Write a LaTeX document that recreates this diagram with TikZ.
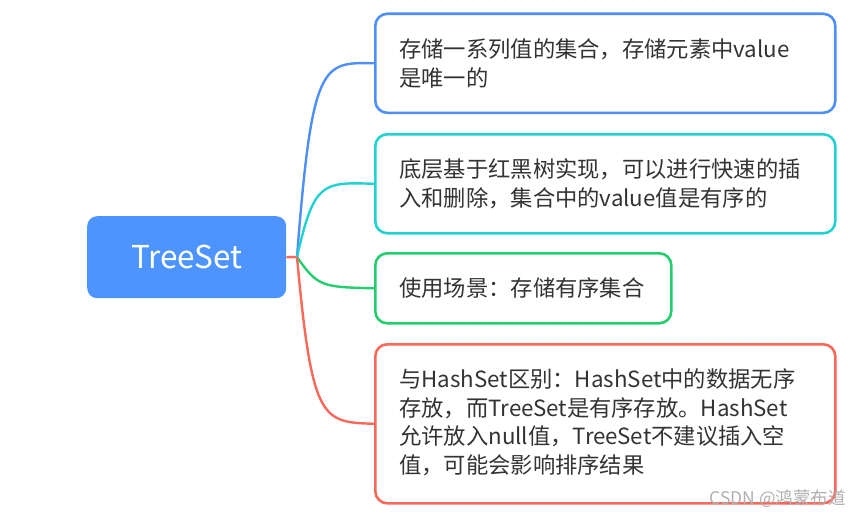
\documentclass[tikz,border=0pt]{standalone}
\usepackage{fontspec}
\setmainfont{Noto Sans CJK SC}
\definecolor{cblue}{HTML}{4E8FF7}
\definecolor{croot}{HTML}{4D94FF}
\definecolor{ccyan}{HTML}{21D2D1}
\definecolor{cgreen}{HTML}{24CE6E}
\definecolor{cred}{HTML}{F9685A}
\definecolor{ctext}{HTML}{333333}
\definecolor{cmark}{HTML}{B0B0B0}
\begin{document}
\begin{tikzpicture}[x=1pt,y=-1pt,
  box/.style={draw=#1,line width=2.6pt,rounded corners=12pt,fill=white,anchor=north west,inner sep=0pt},
  txt/.style={anchor=west,align=left,text=ctext,inner sep=0pt,font=\fontsize{22.3}{28.5}\selectfont},
  link/.style={draw=#1,line width=2.4pt}]
\useasboundingbox (0,0) rectangle (859,519);
% root
\node[fill=croot,rounded corners=10pt,minimum width=199pt,minimum height=82pt,anchor=north west,inner sep=0pt,text=white,font=\fontsize{31.5}{36}\selectfont] (root) at (87,216) {TreeSet};
\coordinate (hub) at (297,257);
% boxes
\node[box=cblue,minimum width=460pt,minimum height=99pt] (b1) at (374,12.5) {};
\node[box=ccyan,minimum width=460pt,minimum height=99pt] (b2) at (374,133) {};
\node[box=cgreen,minimum width=296pt,minimum height=70pt] (b3) at (374,252) {};
\node[box=cred,minimum width=460pt,minimum height=159pt] (b4) at (374,343) {};
% texts
\node[txt] (t1) at ([xshift=25pt]b1.west) {存储一系列值的集合，存储元素中value\\是唯一的};
\node[txt] (t2) at ([xshift=25pt]b2.west) {底层基于红黑树实现，可以进行快速的插\\入和删除，集合中的value值是有序的};
\node[txt] (t3) at ([xshift=25pt]b3.west) {使用场景：存储有序集合};
\node[txt,yshift=1.5pt] (t4) at ([xshift=25pt]b4.west) {与HashSet区别：HashSet中的数据无序\\存放，而TreeSet是有序存放。HashSet\\允许放入null值，TreeSet不建议插入空\\值，可能会影响排序结果};
% connectors
\draw[link=cred] (root.east) -- (hub);
\draw[link=cblue] (hub) .. controls (312,62) and (322,62) .. (b1.west);
\draw[link=ccyan] (hub) .. controls (314,182) and (322,182) .. (b2.west);
\draw[link=cgreen] (hub) .. controls (318,287) and (322,287) .. (b3.west);
\draw[link=cred] (hub) .. controls (312,422) and (322,422) .. (b4.west);
% watermark
\node[anchor=east,text=cmark,inner sep=0pt,font=\fontsize{17.5}{20}\selectfont] (wm) at (846,499) {CSDN\ @鸿蒙布道};
\end{tikzpicture}
\end{document}
